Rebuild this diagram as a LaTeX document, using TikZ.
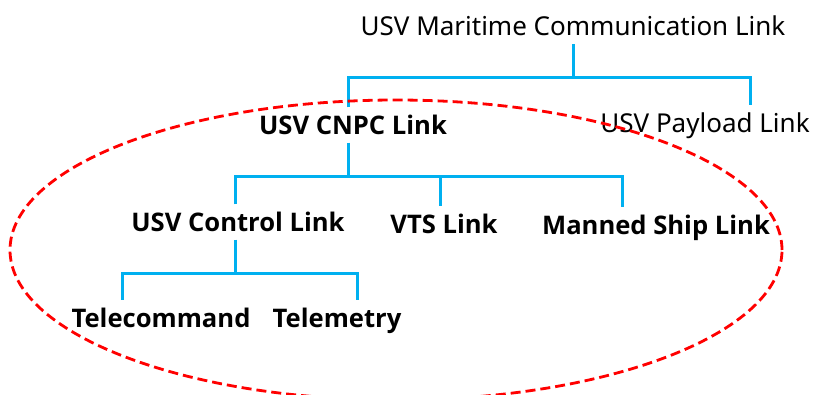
\documentclass[tikz,border=0pt]{standalone}
\usepackage{fontspec}
\setmainfont{Noto Sans}
\newfontfamily\boldfam{Open Sans}
\definecolor{linkblue}{RGB}{0,176,240}
\definecolor{ellred}{RGB}{255,0,0}
\begin{document}
\begin{tikzpicture}[x=1pt,y=1pt,
 lbl/.style={inner xsep=0pt, inner ysep=8pt, text height=19pt, text depth=0pt, font=\fontsize{26}{30}\selectfont},
 blbl/.style={inner xsep=0pt, inner ysep=8pt, text height=19pt, text depth=0pt, font=\boldfam\bfseries\fontsize{25.6}{30}\selectfont},
 conn/.style={draw=linkblue, line width=3pt},
 grp/.style={draw=ellred, line width=2.8pt, dash pattern=on 10pt off 5pt}]
\useasboundingbox (0,0) rectangle (814,-394);
\clip (0,0) rectangle (814,-394);
% labels
\node[lbl] (title) at (573,-26.2) {USV Maritime Communication Link};
\node[blbl] (cnpc) at (353,-125) {USV CNPC Link};
\node[lbl] (payload) at (705,-123) {USV Payload Link};
\node[blbl] (ctrl) at (238,-222) {USV Control Link};
\node[blbl] (vts) at (444,-224) {VTS Link};
\node[blbl] (manned) at (656,-225) {Manned Ship Link};
\node[blbl] (tcmd) at (161,-317.5) {Telecommand};
\node[blbl] (tmet) at (337,-317.5) {Telemetry};
% junctions
\coordinate (aL) at (348,-77);
\coordinate (aR) at (750,-77);
\coordinate (bL) at (235,-176);
\coordinate (bM) at (440,-176);
\coordinate (bR) at (622,-176);
\coordinate (cL) at (122,-273);
\coordinate (cR) at (357,-273);
% connectors
\draw[conn] (title.south) -- (title.south |- aL);
\draw[conn] (aL |- cnpc.north) -- (aL) -- (aR) -- (aR |- payload.north);
\draw[conn] (aL |- cnpc.south) -- (aL |- bL);
\draw[conn] (bL |- ctrl.north) -- (bL) -- (bR) -- (bR |- manned.north);
\draw[conn] (bM) -- (bM |- vts.north);
\draw[conn] (bL |- ctrl.south) -- (bL |- cL);
\draw[conn] (cL |- tcmd.north) -- (cL) -- (cR) -- (cR |- tmet.north);
% group outline
\draw[grp] (396,-250) ellipse [x radius=386, y radius=150];
\end{tikzpicture}
\end{document}
